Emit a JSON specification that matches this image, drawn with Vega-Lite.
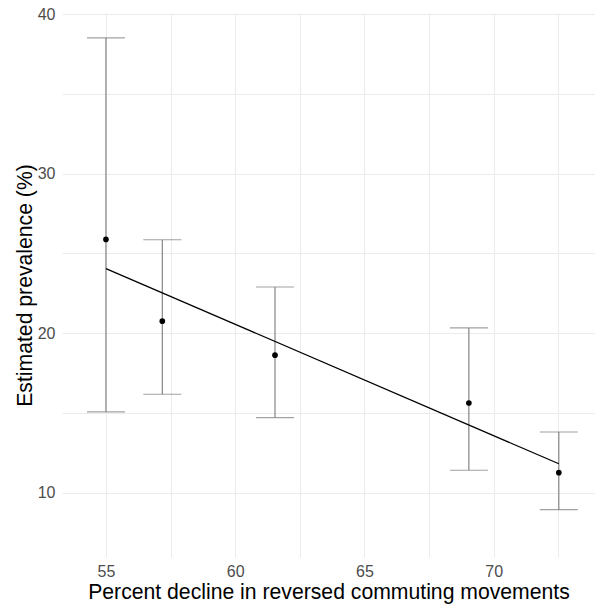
{
  "$schema": "https://vega.github.io/schema/vega-lite/v6.json",
  "width": 533,
  "height": 544,
  "autosize": "none",
  "padding": {"left": 62, "top": 13, "right": 0, "bottom": 50},
  "background": "white",
  "config": {
    "view": {"stroke": null},
    "font": "Liberation Sans",
    "axis": {
      "grid": true,
      "gridColor": "#EBEBEB",
      "gridWidth": 1,
      "domain": false,
      "ticks": false,
      "labelColor": "#4D4D4D",
      "labelFontSize": 16,
      "labelFont": "Liberation Sans",
      "titleFont": "Liberation Sans",
      "titleFontSize": 21.2,
      "titleFontWeight": "normal",
      "titleColor": "black"
    }
  },
  "datasets": {
    "est": [
      {"decline": 55.0, "prev": 25.88, "lo": 15.06, "hi": 38.52},
      {"decline": 57.18, "prev": 20.75, "lo": 16.17, "hi": 25.86},
      {"decline": 61.54, "prev": 18.62, "lo": 14.70, "hi": 22.89},
      {"decline": 69.04, "prev": 15.62, "lo": 11.40, "hi": 20.33},
      {"decline": 72.52, "prev": 11.25, "lo": 8.93, "hi": 13.80}
    ],
    "fit": [
      {"decline": 55.0, "prev": 24.05},
      {"decline": 72.52, "prev": 11.81}
    ]
  },
  "layer": [
    {
      "data": {"name": "est"},
      "mark": {"type": "rule", "color": "#7A7A7A", "strokeWidth": 1.1},
      "encoding": {
        "x": {
          "field": "decline", "type": "quantitative",
          "scale": {"domain": [53.3, 73.92], "nice": false, "zero": false},
          "axis": {
            "values": [55, 57.5, 60, 62.5, 65, 67.5, 70, 72.5],
            "labelExpr": "datum.value % 5 == 0 ? datum.label : ''",
            "labelPadding": 6,
            "title": "Percent decline in reversed commuting movements",
            "titlePadding": 2
          }
        },
        "y": {
          "field": "lo", "type": "quantitative",
          "scale": {"domain": [5.96, 40.08], "nice": false, "zero": false},
          "axis": {
            "values": [10, 15, 20, 25, 30, 35, 40],
            "labelExpr": "datum.value % 10 == 0 ? datum.label : ''",
            "labelPadding": 7,
            "title": "Estimated prevalence (%)",
            "titlePadding": 2
          }
        },
        "y2": {"field": "hi"}
      }
    },
    {
      "data": {"name": "est"},
      "mark": {"type": "tick", "orient": "horizontal", "color": "#7A7A7A", "thickness": 1.1, "size": 38},
      "encoding": {
        "x": {"field": "decline", "type": "quantitative"},
        "y": {"field": "lo", "type": "quantitative"}
      }
    },
    {
      "data": {"name": "est"},
      "mark": {"type": "tick", "orient": "horizontal", "color": "#7A7A7A", "thickness": 1.1, "size": 38},
      "encoding": {
        "x": {"field": "decline", "type": "quantitative"},
        "y": {"field": "hi", "type": "quantitative"}
      }
    },
    {
      "data": {"name": "fit"},
      "mark": {"type": "line", "color": "black", "strokeWidth": 1.3},
      "encoding": {
        "x": {"field": "decline", "type": "quantitative"},
        "y": {"field": "prev", "type": "quantitative"}
      }
    },
    {
      "data": {"name": "est"},
      "mark": {"type": "circle", "color": "black", "opacity": 1, "size": 32},
      "encoding": {
        "x": {"field": "decline", "type": "quantitative"},
        "y": {"field": "prev", "type": "quantitative"}
      }
    }
  ]
}
